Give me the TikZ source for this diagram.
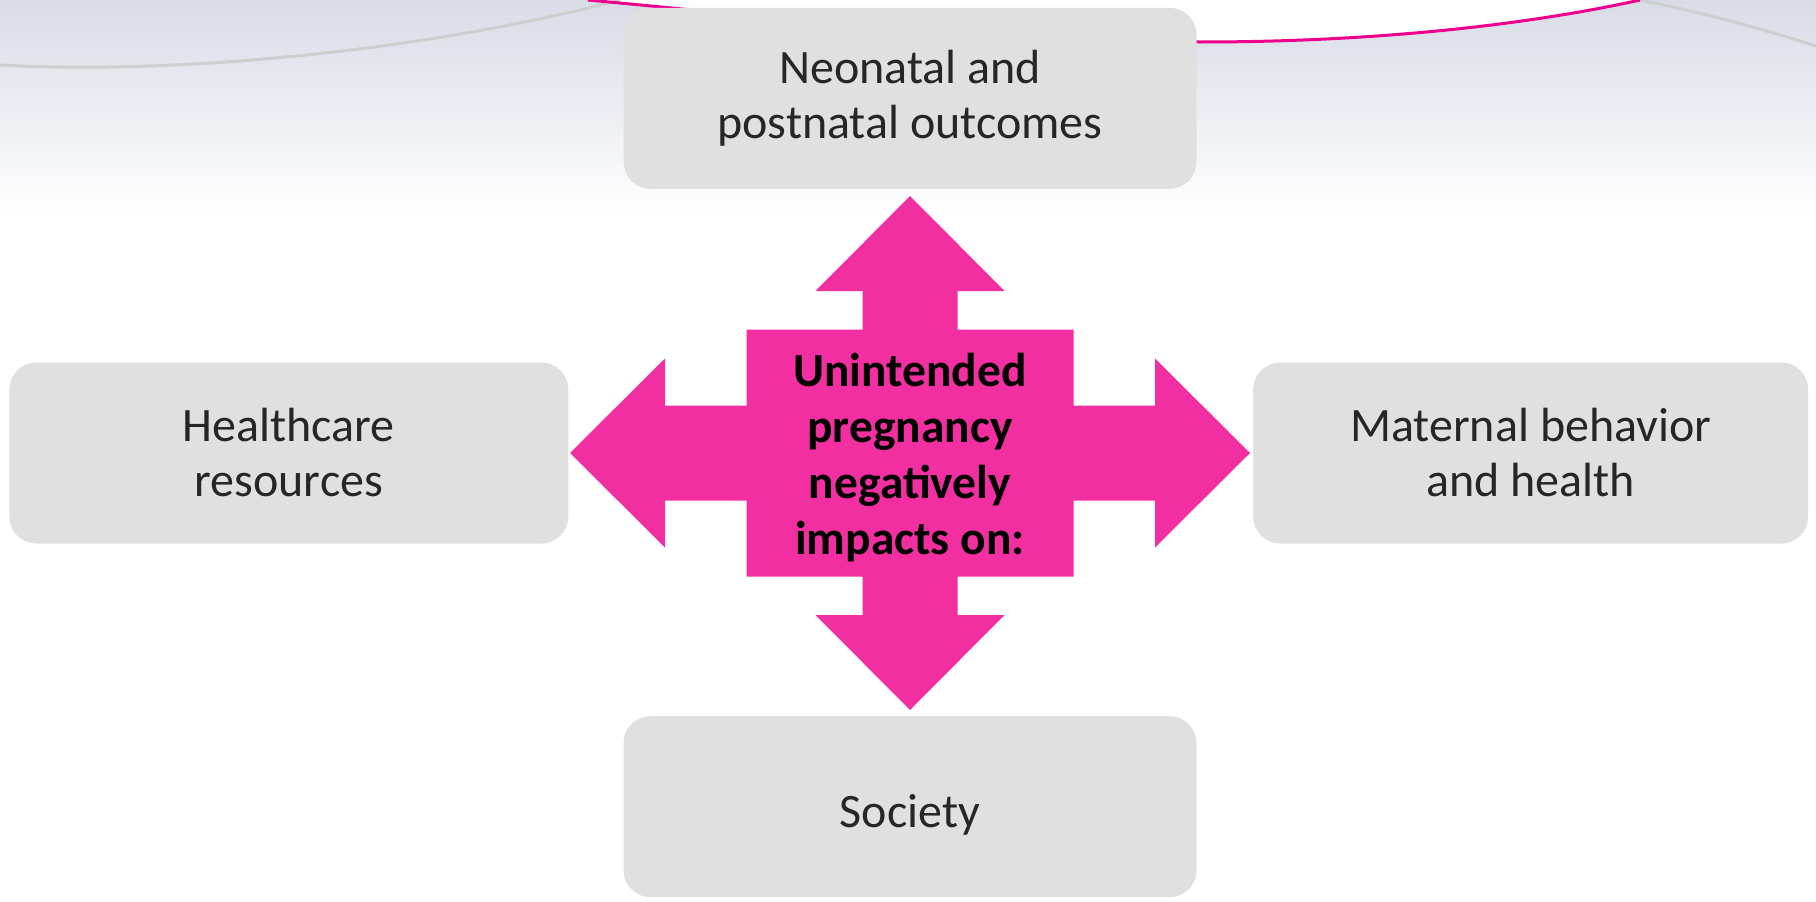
\documentclass[tikz,border=0pt]{standalone}
\usepackage{fontspec}
\setmainfont{Carlito}
\usepackage{tikz}
\usetikzlibrary{positioning}
\definecolor{boxgray}{RGB}{224,224,224}
\definecolor{textgray}{RGB}{38,38,38}
\definecolor{crosspink}{RGB}{242,47,160}
\definecolor{linepink}{RGB}{236,0,140}
\definecolor{sky}{RGB}{216,220,231}
\definecolor{wire}{RGB}{204,207,205}

\begin{document}
\begin{tikzpicture}[x=1pt, y=-1pt,
box/.style={rectangle, fill=boxgray, rounded corners=27pt, minimum height=181pt, align=center, text=textgray,
  font=\fontsize{48}{55}\selectfont, execute at begin node={\rule{0pt}{50pt}}},
hub/.style={align=center, text=black, font=\bfseries\fontsize{47.5}{56}\selectfont}
]
\useasboundingbox (0,0) rectangle (1816,902);
\fill[white] (0,0) rectangle (1816,902);

% sky band at the top
\shade[top color=sky, middle color=sky!60, bottom color=white] (0,0) rectangle (1816,215);
\fill[white] (588,0) .. controls (800,20) and (1000,42) .. (1200,42) .. controls (1400,42) and (1550,20) .. (1640,0) -- cycle;
\draw[wire, line width=3pt] (0,65) .. controls (180,75) and (430,50) .. (620,0);
\draw[wire, line width=3pt] (1640,0) .. controls (1700,12) and (1760,28) .. (1816,46);
\draw[linepink, line width=3pt] (588,0) .. controls (800,20) and (1000,42) .. (1200,42) .. controls (1400,42) and (1550,20) .. (1640,0);

\node (hub) [hub] at (910,453) {};

% four way arrow
\begin{scope}[shift={(hub.center)}]
\fill[crosspink] (0,-257) -- (94.5,-162) -- (47.5,-162) -- (47.5,-123.5) -- (163.5,-123.5) -- (163.5,-47.5)
  -- (245,-47.5) -- (245,-94.5) -- (340,0) -- (245,94.5) -- (245,47.5) -- (163.5,47.5)
  -- (163.5,123.5) -- (47.5,123.5) -- (47.5,162) -- (94.5,162) -- (0,257) -- (-94.5,162)
  -- (-47.5,162) -- (-47.5,123.5) -- (-163.5,123.5) -- (-163.5,47.5) -- (-245,47.5) -- (-245,94.5)
  -- (-340,0) -- (-245,-94.5) -- (-245,-47.5) -- (-163.5,-47.5) -- (-163.5,-123.5) -- (-47.5,-123.5)
  -- (-47.5,-162) -- (-94.5,-162) -- cycle;
\end{scope}

\node (hubtext) [hub] at ([yshift=-5pt]hub.center) {Unintended\\pregnancy\\negatively\\impacts on:};

\node (outcomes) [box, minimum width=573pt, above=264pt of hub.center] {Neonatal and\\postnatal outcomes};
\node (resources) [box, minimum width=559pt, left=341.5pt of hub.center] {Healthcare\\resources};
\node (maternal) [box, minimum width=555pt, right=343pt of hub.center] {Maternal behavior\\and health};
\node (society) [box, minimum width=573pt, below=263pt of hub.center] {Society};
\end{tikzpicture}
\end{document}
